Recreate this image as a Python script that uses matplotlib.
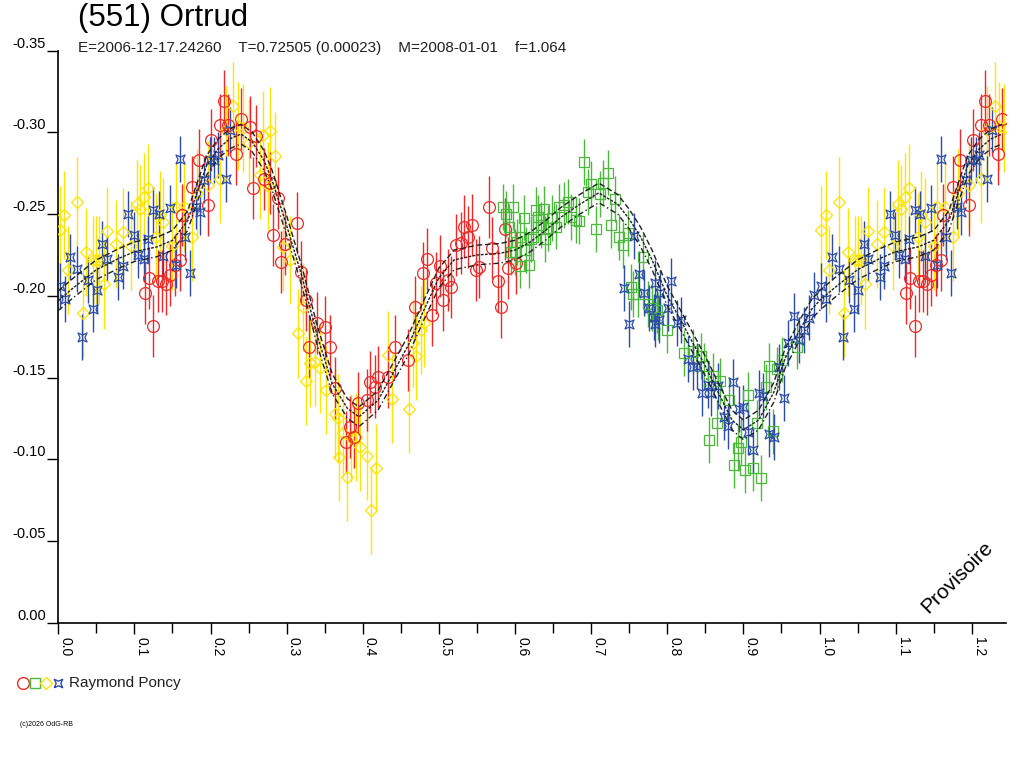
import numpy as np
import matplotlib
matplotlib.use("Agg")
import matplotlib.pyplot as plt
from matplotlib.lines import Line2D

plt.rcParams['font.family'] = ['Liberation Sans', 'DejaVu Sans']

# ---- data (phase, reduced magnitude) ----
red_phase = [0.114, 0.119, 0.125, 0.131, 0.136, 0.141, 0.147, 0.153, 0.160, 0.162, 0.175, 0.185,
             0.197, 0.201, 0.212, 0.218, 0.223, 0.234, 0.240, 0.252, 0.256, 0.260, 0.270, 0.278,
             0.282, 0.288, 0.292, 0.298, 0.313, 0.319, 0.325, 0.330, 0.340, 0.350, 0.357, 0.363,
             0.378, 0.383, 0.389, 0.394, 0.405, 0.409, 0.416, 0.420, 0.433, 0.442, 0.459, 0.468,
             0.479, 0.485, 0.491, 0.496, 0.501, 0.505, 0.512, 0.516, 0.523, 0.529, 0.533, 0.538,
             0.544, 0.549, 0.553, 0.566, 0.570, 0.577, 0.581, 0.587, 0.591, 0.601]
red_mag = [-0.2016, -0.211, -0.1818, -0.209, -0.209, -0.207, -0.2125, -0.219, -0.222, -0.2495, -0.2668, -0.283,
           -0.2556, -0.2954, -0.3046, -0.319, -0.3046, -0.287, -0.308, -0.3035, -0.266, -0.298, -0.2716, -0.269,
           -0.2375, -0.2597, -0.2205, -0.232, -0.2447, -0.2148, -0.1975, -0.169, -0.1832, -0.181, -0.169, -0.1434,
           -0.1108, -0.120, -0.1138, -0.1343, -0.1363, -0.1475, -0.1445, -0.1506, -0.1506, -0.169, -0.161, -0.1934,
           -0.2138, -0.2224, -0.1883, -0.2077, -0.2185, -0.1975, -0.2097, -0.2053, -0.2311, -0.2321, -0.2424, -0.2362,
           -0.2434, -0.2158, -0.2179, -0.2546, -0.2291, -0.2093, -0.1930, -0.241, -0.2168, -0.2203]

green_phase = [0.584, 0.588, 0.592, 0.595, 0.597, 0.600, 0.603, 0.606, 0.607, 0.612, 0.615, 0.619,
               0.6216, 0.623, 0.6277, 0.630, 0.6343, 0.6377, 0.639, 0.643, 0.648, 0.6534, 0.658, 0.664,
               0.6694, 0.6737, 0.680, 0.684, 0.690, 0.6953, 0.700, 0.7058, 0.711, 0.7157, 0.7217, 0.7256,
               0.7317, 0.737, 0.7425, 0.7478, 0.7522, 0.7556, 0.762, 0.7687, 0.775, 0.780, 0.786, 0.788,
               0.799, 0.8223, 0.8333, 0.8443, 0.8486, 0.8543, 0.8604, 0.8648, 0.8696, 0.8814, 0.8871, 0.8923,
               0.8967, 0.9023, 0.9067, 0.9128, 0.9185, 0.9237, 0.9294, 0.9338, 0.9395, 0.9447, 0.9513, 0.971]
green_mag = [-0.2543, -0.250, -0.242, -0.227, -0.2543, -0.227, -0.233, -0.2185, -0.2359, -0.2479, -0.228, -0.219,
             -0.235, -0.236, -0.2526, -0.248, -0.2434, -0.2530, -0.235, -0.2414, -0.2475, -0.2424, -0.2546, -0.2556,
             -0.2577, -0.2482, -0.2465, -0.246, -0.2821, -0.2634, -0.2685, -0.2409, -0.2624, -0.2693, -0.2754, -0.2434,
             -0.2591, -0.2359, -0.2312, -0.2383, -0.2056, -0.2010, -0.2010, -0.224, -0.195, -0.1924, -0.1913, -0.187,
             -0.179, -0.1649, -0.166, -0.163, -0.157, -0.112, -0.1512, -0.122, -0.148, -0.1364, -0.0965, -0.1067,
             -0.1108, -0.0934, -0.1393, -0.0948, -0.122, -0.0887, -0.144, -0.157, -0.117, -0.155, -0.161, -0.169]

yellow_phase = [0.0024, 0.008, 0.013, 0.025, 0.032, 0.037, 0.046, 0.050, 0.054, 0.060, 0.064, 0.076,
                0.085, 0.096, 0.103, 0.107, 0.112, 0.118, 0.129, 0.133, 0.138, 0.150, 0.155, 0.165,
                0.176, 0.182, 0.197, 0.212, 0.220, 0.230, 0.236, 0.243, 0.251, 0.265, 0.269, 0.275,
                0.278, 0.285, 0.295, 0.304, 0.315, 0.322, 0.326, 0.3304, 0.337, 0.3435, 0.3522, 0.3632,
                0.3675, 0.3688, 0.374, 0.3793, 0.385, 0.3907, 0.396, 0.406, 0.411, 0.417, 0.433, 0.4387,
                0.4605, 0.4657, 0.470, 0.4767, 0.4798]
yellow_mag = [-0.240, -0.2495, -0.2157, -0.2577, -0.1897, -0.227, -0.222, -0.222, -0.222, -0.207, -0.2394, -0.2318,
              -0.239, -0.2308, -0.2562, -0.253, -0.2603, -0.2662, -0.236, -0.2495, -0.2453, -0.2307, -0.2546, -0.2546,
              -0.236, -0.263, -0.268, -0.2716, -0.3012, -0.316, -0.3040, -0.3027, -0.2935, -0.274, -0.2986, -0.267,
              -0.3006, -0.2857, -0.230, -0.222, -0.177, -0.1934, -0.148, -0.1587, -0.1597, -0.1556, -0.1424, -0.128,
              -0.125, -0.1016, -0.1163, -0.089, -0.1128, -0.1138, -0.1073, -0.102, -0.069, -0.0945, -0.1638, -0.1369,
              -0.131, -0.171, -0.1634, -0.179, -0.1835]

blue_phase = [0.0024, 0.009, 0.016, 0.025, 0.031, 0.039, 0.045, 0.051, 0.058, 0.064, 0.079, 0.085,
              0.092, 0.099, 0.105, 0.112, 0.118, 0.125, 0.132, 0.138, 0.147, 0.154, 0.160, 0.166,
              0.173, 0.181, 0.186, 0.192, 0.199, 0.205, 0.210, 0.220, 0.226,
              0.7437, 0.750, 0.7568, 0.7634, 0.7699, 0.7765, 0.7822, 0.7839, 0.7845, 0.7888, 0.7905, 0.8006,
              0.805, 0.8123, 0.818, 0.8268, 0.8334, 0.8387, 0.8456, 0.853, 0.8574, 0.8662, 0.875, 0.8802,
              0.8867, 0.894, 0.900, 0.9067, 0.9128, 0.920, 0.9259, 0.9338, 0.9404, 0.947, 0.9535, 0.9591,
              0.9666, 0.9732, 0.9797, 0.9863, 0.9928]
blue_mag = [-0.206, -0.198, -0.2236, -0.2166, -0.175, -0.2097, -0.192, -0.2036, -0.232, -0.2228, -0.2117, -0.218,
            -0.250, -0.237, -0.225, -0.2226, -0.235, -0.2526, -0.250, -0.2245, -0.2536, -0.219, -0.2838, -0.236,
            -0.2138, -0.2546, -0.251, -0.271, -0.283, -0.283, -0.286, -0.2716, -0.3015,
            -0.2048, -0.1828, -0.2367, -0.2133, -0.2019, -0.1924, -0.187, -0.208, -0.1828, -0.185, -0.202, -0.1926,
            -0.209, -0.1834, -0.185, -0.1614, -0.1565, -0.157, -0.1405, -0.1454, -0.1405, -0.145, -0.1256, -0.1205,
            -0.1475, -0.1307, -0.1317, -0.1164, -0.1056, -0.1405, -0.139, -0.1154, -0.1134, -0.1565, -0.1375, -0.1713,
            -0.1875, -0.173, -0.179, -0.1867, -0.2003]

# typical error bar half-lengths per observer series
red_err = 0.019
green_err = 0.014
yellow_err = 0.027
blue_err = 0.014

# fitted light curve (centre) and its envelope
fit_phase = [0.00, 0.02, 0.05, 0.08, 0.10, 0.13, 0.15, 0.17, 0.18, 0.195, 0.21, 0.225, 0.24, 0.255, 0.27,
             0.28, 0.30, 0.32, 0.34, 0.36, 0.38, 0.395, 0.42, 0.44, 0.46, 0.48, 0.50, 0.52, 0.55, 0.58,
             0.60, 0.62, 0.64, 0.66, 0.685, 0.71, 0.735, 0.75, 0.765, 0.78, 0.80, 0.82, 0.85, 0.87,
             0.885, 0.90, 0.92, 0.94, 0.955, 0.975, 0.99]
fit_mag = [-0.197, -0.205, -0.216, -0.223, -0.227, -0.230, -0.234, -0.246, -0.260, -0.280, -0.290, -0.296, -0.299, -0.294, -0.283,
           -0.272, -0.243, -0.212, -0.176, -0.146, -0.131, -0.126, -0.136, -0.153, -0.170, -0.191, -0.211, -0.222, -0.225, -0.226,
           -0.228, -0.233, -0.240, -0.248, -0.256, -0.263, -0.256, -0.247, -0.236, -0.222, -0.200, -0.183, -0.157, -0.138,
           -0.124, -0.118, -0.124, -0.141, -0.162, -0.180, -0.192]
fit_env = 0.006

x_max = 1.245


def wrap(ph, mag):
    # repeat the start of the cycle after phase 1
    ph = np.asarray(ph)
    mag = np.asarray(mag)
    sel = ph + 1 <= x_max
    return np.concatenate([ph, ph[sel] + 1]), np.concatenate([mag, mag[sel]])


fig = plt.figure(figsize=(10.24, 7.68), dpi=100)
ax = fig.add_axes([58.3 / 1024, 1 - 622.7 / 768, (1006 - 58.3) / 1024, (622.7 - 50.7) / 768])

star = [(-1, -1), (0, -0.55), (1, -1), (0.55, 0), (1, 1), (0, 0.55), (-1, 1), (-0.55, 0), (-1, -1)]

series = [
    (yellow_phase, yellow_mag, yellow_err, '#ffe400', 'D', 6.5),
    (red_phase, red_mag, red_err, '#f02828', 'o', 8.5),
    (green_phase, green_mag, green_err, '#4cb83c', 's', 7),
    (blue_phase, blue_mag, blue_err, '#2c4ca8', star, 6.5),
]
for ph, mg, er, col, mk, ms in series:
    x, y = wrap(ph, mg)
    ax.errorbar(x, y, yerr=er, fmt='none', ecolor=col, elinewidth=1.0, capsize=0, zorder=2)
    ax.plot(x, y, linestyle='none', marker=mk, ms=ms, mfc='none', mec=col, mew=0.9, zorder=3)

fx, fy = wrap(fit_phase + [1.0], fit_mag + [fit_mag[0]])
order = np.argsort(fx)
fx, fy = fx[order], fy[order]
ax.plot(fx, fy, color='#202020', lw=1.0, dashes=(2, 1), zorder=4)
ax.plot(fx, fy - fit_env, color='#202020', lw=1.0, dashes=(4, 2), zorder=4)
ax.plot(fx, fy + fit_env, color='#202020', lw=1.0, dashes=(4, 2, 1, 2), zorder=4)

ax.set_xlim(0, x_max)
ax.set_ylim(0.0, -0.35)

for s in ['top', 'right']:
    ax.spines[s].set_visible(False)
for s in ['left', 'bottom']:
    ax.spines[s].set_linewidth(1.2)

yticks = [0.0, -0.05, -0.10, -0.15, -0.20, -0.25, -0.30, -0.35]
ax.set_yticks(yticks)
ax.set_yticklabels(['%.2f' % abs(v) if v == 0 else '%.2f' % v for v in yticks], fontsize=10.5)
for lbl in ax.get_yticklabels():
    lbl.set_verticalalignment('bottom')
ax.tick_params(axis='y', direction='out', length=8, width=1, pad=1, colors='black')

xticks = [0.0, 0.1, 0.2, 0.3, 0.4, 0.5, 0.6, 0.7, 0.8, 0.9, 1.0, 1.1, 1.2]
ax.set_xticks(xticks)
ax.set_xticks(np.arange(0.05, x_max, 0.1), minor=True)
ax.set_xticklabels(['%.1f' % v for v in xticks], fontsize=10, rotation=-90, ha='left', va='top')
ax.tick_params(axis='x', which='major', direction='out', length=8, width=1, pad=2)
ax.tick_params(axis='x', which='minor', direction='out', length=7, width=1)

fig.text(78 / 1024, 1 - 18 / 768, '(551) Ortrud', fontsize=22.5, va='center', ha='left')
fig.text(78 / 1024, 1 - 48 / 768,
         'E=2006-12-17.24260    T=0.72505 (0.00023)    M=2008-01-01    f=1.064',
         fontsize=11, va='center', ha='left', color='#202020')

fig.text(957 / 1024, 1 - 577 / 768, 'Provisoire', fontsize=15, rotation=45, ha='center', va='center')

# legend row
leg_y = 1 - 683 / 768
for xp, col, mk, ms in [(23, '#f02828', 'o', 8.5), (35, '#4cb83c', 's', 7),
                        (46, '#ffe400', 'D', 6.5), (58, '#2c4ca8', star, 6)]:
    fig.add_artist(Line2D([xp / 1024], [leg_y], transform=fig.transFigure, linestyle='none',
                          marker=mk, ms=ms, mfc='none', mec=col, mew=1.0))
fig.text(69 / 1024, leg_y, 'Raymond Poncy', fontsize=11, va='center', ha='left', color='#202020')

fig.text(20 / 1024, 1 - 724 / 768, '(c)2026 OdG-RB', fontsize=5, va='center', ha='left')

fig.savefig('out.png', dpi=100)
